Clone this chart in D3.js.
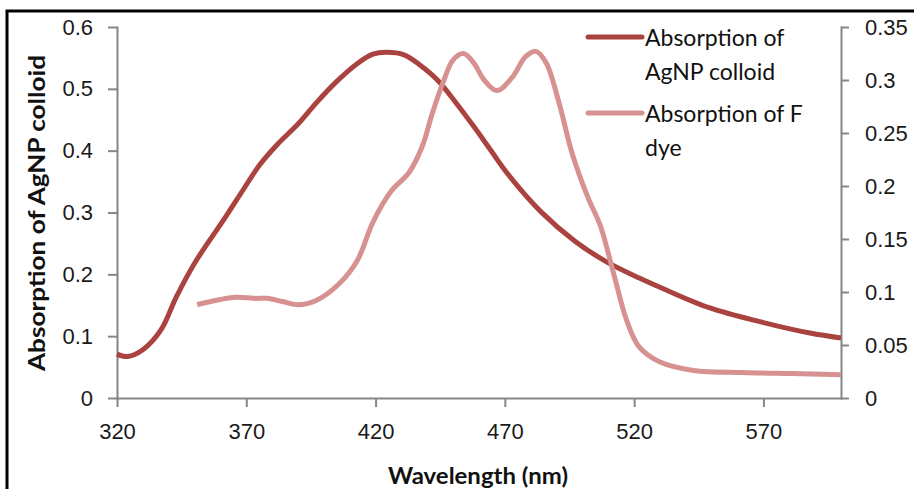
<!DOCTYPE html>
<meta charset="utf-8">
<style>
body {
  margin: 0;
  background: #fff;
}
svg {
  display: block;
  font-family: Lato, "Open Sans", sans-serif;
}
.axis path, .axis line {
  stroke: #868686;
  stroke-width: 2px;
}
.axis text {
  fill: #1a1a1a;
  font-size: 22px;
}
.title {
  font-weight: bold;
  font-size: 22px;
  fill: #111;
}
.legend text {
  font-size: 23px;
  fill: #111;
}
</style>
<body>
<script src="https://d3js.org/d3.v7.min.js"></script>
<script>
var width = 914,
    height = 489;

// AgNP colloid absorption (left axis)
var agWavelength = [320, 324, 330, 337, 343, 350, 356, 362, 369, 375, 382, 390, 397, 405, 413, 419, 424, 431, 437, 444, 451, 458, 464, 471, 484, 497, 509, 522, 530, 549, 569, 588, 600];
var agAbsorption = [0.071, 0.067, 0.078, 0.11, 0.164, 0.218, 0.256, 0.293, 0.338, 0.376, 0.41, 0.443, 0.477, 0.512, 0.541, 0.556, 0.559, 0.555, 0.539, 0.514, 0.478, 0.439, 0.404, 0.363, 0.301, 0.254, 0.221, 0.194, 0.179, 0.146, 0.123, 0.105, 0.097];

// F dye absorption (right axis)
var dyeWavelength = [351, 358, 366, 373, 378, 384, 390, 397, 406, 413, 419, 426, 433, 438, 442, 446, 450, 454, 458, 462, 467, 473, 478, 482, 486, 491, 496, 502, 507, 512, 517, 522, 530, 543, 562, 581, 600];
var dyeAbsorption = [0.088, 0.092, 0.095, 0.094, 0.094, 0.091, 0.088, 0.092, 0.108, 0.13, 0.166, 0.195, 0.213, 0.237, 0.269, 0.297, 0.319, 0.325, 0.316, 0.3, 0.29, 0.303, 0.322, 0.327, 0.316, 0.278, 0.231, 0.19, 0.162, 0.118, 0.074, 0.048, 0.034, 0.026, 0.024, 0.023, 0.022];

var xTicks = [320, 370, 420, 470, 520, 570];
var leftTicks = [0, 0.1, 0.2, 0.3, 0.4, 0.5, 0.6];
var rightTicks = [0, 0.05, 0.1, 0.15, 0.2, 0.25, 0.3, 0.35];
var seriesNames = [["Absorption of", "AgNP colloid"], ["Absorption of F", "dye"]];
var seriesColors = ["#aa4340", "#d69190"];

var svg = d3.select("body").append("svg")
  .attr("width", width)
  .attr("height", height);

// frame
svg.append("rect")
  .attr("x", 7).attr("y", 11)
  .attr("width", 950).attr("height", 520)
  .attr("fill", "none")
  .attr("stroke", "#000")
  .attr("stroke-width", 3);

var x = d3.scaleLinear().domain([320, 600]).range([117, 841]);
var yLeft = d3.scaleLinear().domain([0, 0.6]).range([398, 27]);
var yRight = d3.scaleLinear().domain([0, 0.35]).range([398, 27]);

svg.append("g")
  .attr("class", "axis")
  .attr("transform", "translate(0,398)")
  .call(d3.axisBottom(x).tickValues(xTicks).tickSize(9).tickSizeOuter(0).tickPadding(20))
  .call(function(g) { g.selectAll("text").attr("dy", "0.55em"); });

svg.append("g")
  .attr("class", "axis")
  .attr("transform", "translate(117,0)")
  .call(d3.axisLeft(yLeft).tickValues(leftTicks).tickFormat(d3.format("")).tickSize(9).tickSizeOuter(0).tickPadding(15));

svg.append("g")
  .attr("class", "axis")
  .attr("transform", "translate(841,0)")
  .call(d3.axisRight(yRight).tickValues(rightTicks).tickFormat(d3.format("")).tickSize(8).tickSizeOuter(0).tickPadding(16));

svg.selectAll(".axis .domain").attr("stroke-linecap", "square");

var agLine = d3.line()
  .x(function(d, i) { return x(agWavelength[i]); })
  .y(function(d) { return yLeft(d); })
  .curve(d3.curveCatmullRom.alpha(0.5));

var dyeLine = d3.line()
  .x(function(d, i) { return x(dyeWavelength[i]); })
  .y(function(d) { return yRight(d); })
  .curve(d3.curveCatmullRom.alpha(0.5));

svg.append("path")
  .datum(agAbsorption)
  .attr("d", agLine)
  .attr("fill", "none")
  .attr("stroke", seriesColors[0])
  .attr("stroke-width", 5)
  .attr("stroke-linejoin", "round");

svg.append("path")
  .datum(dyeAbsorption)
  .attr("d", dyeLine)
  .attr("fill", "none")
  .attr("stroke", seriesColors[1])
  .attr("stroke-width", 5)
  .attr("stroke-linejoin", "round");

// legend
var legend = svg.append("g").attr("class", "legend")
  .selectAll("g")
  .data(seriesNames)
  .enter().append("g")
  .attr("transform", function(d, i) { return "translate(588," + (37 + i * 76) + ")"; });

legend.append("line")
  .attr("x1", 0).attr("x2", 54)
  .attr("stroke", function(d, i) { return seriesColors[i]; })
  .attr("stroke-width", 5)
  .attr("stroke-linecap", "round");

legend.append("text")
  .attr("x", 57)
  .attr("y", 9)
  .text(function(d) { return d[0]; });

legend.append("text")
  .attr("x", 57)
  .attr("y", 43)
  .text(function(d) { return d[1]; });

// axis titles
svg.append("text")
  .attr("class", "title")
  .attr("text-anchor", "middle")
  .attr("transform", "translate(45,213) rotate(-90)")
  .attr("textLength", 316)
  .attr("lengthAdjust", "spacingAndGlyphs")
  .text("Absorption of AgNP colloid");

svg.append("text")
  .attr("class", "title")
  .attr("text-anchor", "middle")
  .attr("x", 478)
  .attr("y", 484)
  .attr("textLength", 180)
  .attr("lengthAdjust", "spacingAndGlyphs")
  .text("Wavelength (nm)");
</script>
